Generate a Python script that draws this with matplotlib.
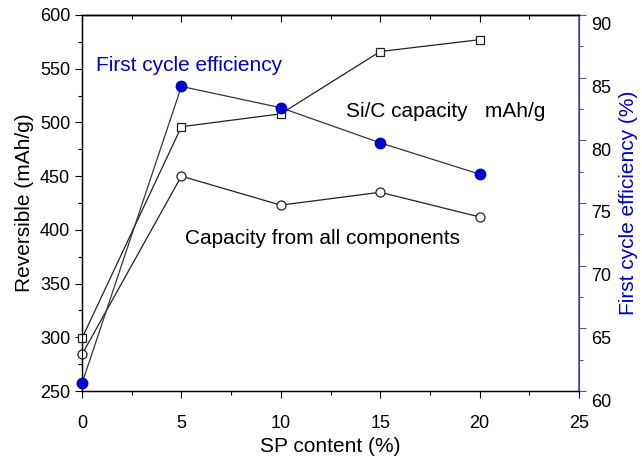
import matplotlib
matplotlib.use("Agg")
import matplotlib.pyplot as plt
import matplotlib.transforms as mtransforms
from matplotlib.ticker import MultipleLocator

plt.rcParams['font.family'] = ['Liberation Sans', 'DejaVu Sans']

# Datos
sp = [0, 5, 10, 15, 20]
sic_cap = [299, 496, 508, 566, 577]        # Si/C capacity mAh/g
all_cap = [284, 450, 423, 435, 412]        # Capacity from all components
eff = [60.6, 84.3, 82.6, 79.8, 77.3]       # First cycle efficiency (%)

blue = '#0000cc'
spine_blue = '#55558f'

fig = plt.figure(figsize=(6.42, 4.57), dpi=100)
ax = fig.add_axes([0.1277, 0.1444, 0.9019 - 0.1277, 0.9672 - 0.1444])
ax2 = ax.twinx()

ax.plot(sp, sic_cap, color='#222222', lw=0.9, marker='s', ms=6,
        mfc='white', mec='#222222', mew=0.9, clip_on=False, zorder=3)
ax.plot(sp, all_cap, color='#222222', lw=0.9, marker='o', ms=6.5,
        mfc='white', mec='#222222', mew=0.9, clip_on=False, zorder=3)
ax2.plot(sp, eff, color='#333344', lw=0.9, marker='o', ms=7.5,
         mfc=blue, mec=blue, clip_on=False, zorder=3)

ax.set_xlim(0, 25)
ax.set_ylim(250, 600)
ax2.set_ylim(60, 90)

ax.xaxis.set_major_locator(MultipleLocator(5))
ax.xaxis.set_minor_locator(MultipleLocator(2.5))
ax.yaxis.set_major_locator(MultipleLocator(50))
ax.yaxis.set_minor_locator(MultipleLocator(25))
ax2.yaxis.set_major_locator(MultipleLocator(5))
ax2.yaxis.set_minor_locator(MultipleLocator(2.5))

ax.tick_params(axis='x', which='both', direction='out', labelsize=13, pad=12)
ax.tick_params(axis='x', which='major', length=5, width=0.8)
ax.tick_params(axis='x', which='minor', length=3, width=0.8)
ax.tick_params(axis='y', which='major', direction='out', length=5, width=0.8, labelsize=13)
ax.tick_params(axis='y', which='minor', direction='out', length=3, width=0.8)
ax2.tick_params(axis='y', which='major', direction='out', length=5, width=0.8,
                color=spine_blue, labelsize=13)
ax2.tick_params(axis='y', which='minor', direction='out', length=3, width=0.8,
                color=spine_blue)

# marcas de arriba hacia adentro
top = ax.secondary_xaxis('top')
top.xaxis.set_major_locator(MultipleLocator(5))
top.xaxis.set_minor_locator(MultipleLocator(2.5))
top.tick_params(which='both', direction='in', labeltop=False, width=0.8)
top.tick_params(which='major', length=5)
top.tick_params(which='minor', length=3)
top.spines['top'].set_linewidth(1.0)

# etiquetas de la derecha un poco mas abajo
shift = mtransforms.ScaledTranslation(0, -9 / 100, fig.dpi_scale_trans)
for lbl in ax2.get_yticklabels():
    lbl.set_transform(lbl.get_transform() + shift)

for s in ['left', 'bottom', 'top']:
    ax.spines[s].set_linewidth(1.0)
ax2.spines['right'].set_color(spine_blue)
ax2.spines['right'].set_linewidth(1.2)

ax.set_xlabel("SP content (%)", fontsize=15, labelpad=4)
ax.set_ylabel("Reversible (mAh/g)", fontsize=15, labelpad=4)
ax2.set_ylabel("First cycle efficiency (%)", fontsize=15, color=blue, labelpad=6)

ax.text(0.7, 553, "First cycle efficiency", color=blue, fontsize=15, va='center')
ax.text(13.3, 510, "Si/C capacity   mAh/g", color='black', fontsize=15, va='center')
ax.text(5.2, 392, "Capacity from all components", color='black', fontsize=15, va='center')

fig.savefig("out.png", dpi=100)
